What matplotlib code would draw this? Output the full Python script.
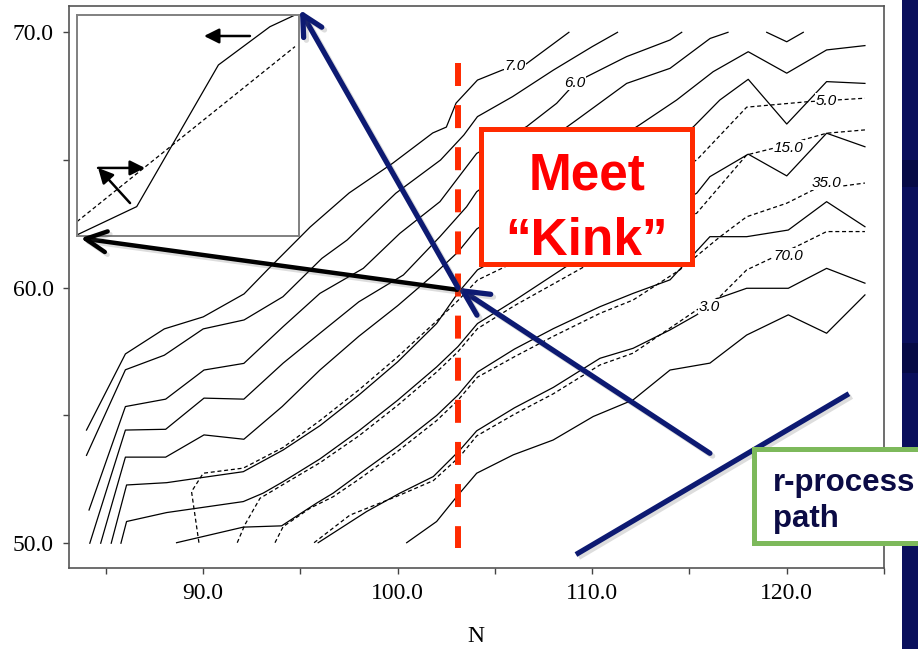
import matplotlib
matplotlib.use("Agg")
import matplotlib.pyplot as plt
from matplotlib.patches import Rectangle, FancyArrowPatch
from matplotlib.ticker import MultipleLocator, FormatStrFormatter
import matplotlib.patheffects as pe

# ------------------------------------------------------------------ data
# contour lines: neutron number N (x) versus Z (y)
A_N = [84.0, 86.0, 88.0, 90.0, 92.1, 93.3, 95.5, 97.5, 99.75, 101.8, 102.5, 103.0, 104.1, 105.4, 106.6, 108.8]
A_Z = [54.43, 57.41, 58.39, 58.86, 59.76, 60.70, 62.38, 63.71, 64.88, 66.06, 66.29, 67.23, 68.13, 68.53, 68.76, 70.0]
B_N = [84.0, 86.0, 88.0, 90.0, 92.1, 94.1, 96.1, 97.4, 99.9, 102.2, 103.4, 104.1, 105.9, 108.0, 110.0, 111.3]
B_Z = [53.44, 56.79, 57.36, 58.39, 58.74, 59.65, 61.15, 61.87, 63.70, 65.0, 65.98, 66.70, 67.48, 68.52, 69.44, 70.0]
C_N = [84.13, 86.0, 88.07, 90.04, 92.09, 94.11, 96.0, 98.23, 100.11, 102.17, 103.54, 104.06, 106.63, 108.17, 109.11, 109.71, 111.77, 114.0, 114.6]
C_Z = [51.3, 55.35, 55.64, 56.78, 57.04, 58.48, 59.78, 60.76, 62.13, 63.37, 64.74, 65.26, 66.31, 67.22, 68.0, 68.26, 69.05, 69.7, 70.0]
D_N = [84.17, 86.0, 88.07, 90.04, 92.09, 94.11, 96.0, 98.0, 100.29, 102.17, 103.54, 104.06, 109.2, 111.77, 114.0, 116.06, 116.98]
D_Z = [50.0, 54.43, 54.46, 55.68, 55.64, 57.05, 58.22, 59.45, 60.5, 62.0, 63.17, 63.76, 66.57, 68.0, 68.59, 69.76, 70.0]
E_N = [84.73, 86.0, 88.07, 90.04, 92.09, 94.06, 96.0, 98.0, 100.0, 101.83, 103.1, 104.06, 112.44, 114.34, 116.22, 118.02, 120.0, 122.05, 124.02]
E_Z = [50.0, 53.37, 53.37, 54.24, 54.07, 55.35, 56.78, 58.1, 59.3, 60.5, 61.4, 62.3, 66.38, 67.35, 68.46, 69.24, 68.4, 69.31, 69.48]
F_N = [85.27, 86.06, 88.12, 89.66, 92.06, 94.11, 96.0, 98.0, 100.0, 102.0, 103.1, 104.1, 106.0, 108.0, 115.2, 116.56, 118.02, 120.0, 122.05, 124.02]
F_Z = [50.0, 52.28, 52.37, 52.54, 52.8, 53.65, 54.6, 55.8, 57.1, 58.6, 59.8, 60.7, 61.5, 62.4, 66.3, 67.35, 68.16, 66.41, 68.07, 68.0]
G_N = [85.77, 86.06, 88.12, 92.06, 93.08, 94.11, 96.0, 98.0, 100.0, 102.0, 103.1, 104.1, 106.0, 110.0, 115.37, 116.05, 118.02, 120.0, 122.05, 124.02]
G_Z = [50.0, 50.85, 51.2, 51.63, 51.96, 52.41, 53.3, 54.4, 55.6, 56.9, 57.7, 58.6, 59.5, 61.5, 63.7, 64.35, 65.23, 64.38, 66.05, 65.52]
H_N = [88.63, 92.06, 94.03, 95.83, 96.68, 98.0, 100.0, 102.0, 103.1, 104.1, 106.0, 108.0, 110.4, 112.1, 114.0, 116.05, 117.94, 120.08, 122.05, 124.02]
H_Z = [50.02, 50.63, 50.68, 51.57, 51.96, 52.7, 53.8, 55.0, 55.8, 56.7, 57.6, 58.4, 59.26, 59.78, 60.31, 62.0, 62.0, 62.26, 63.37, 62.39]
I_N = [95.91, 98.4, 100.11, 101.83, 103.2, 104.06, 106.0, 108.0, 110.4, 112.1, 114.0, 115.37, 116.48, 117.94, 120.08, 122.05, 124.02]
I_Z = [50.02, 51.24, 51.96, 52.61, 53.65, 54.4, 55.3, 56.1, 57.24, 57.63, 58.35, 58.94, 59.59, 59.98, 59.98, 60.76, 60.18]
J_N = [100.46, 102.0, 103.03, 104.06, 105.94, 107.99, 110.05, 112.1, 114.0, 116.05, 117.94, 120.08, 122.05, 124.02]
J_Z = [50.02, 50.85, 51.82, 52.74, 53.46, 54.04, 54.96, 55.61, 56.78, 57.05, 58.15, 58.94, 58.22, 59.72]
V_N = [118.97, 120.0, 120.85]
V_Z = [70.0, 69.63, 70.0]
# dashed contour lines
D5_N = [89.78, 89.4, 90.0, 92.06, 94.11, 96.0, 98.0, 100.0, 102.0, 103.1, 104.1, 106.0, 110.0, 115.37, 117.94, 121.02, 124.02]
D5_Z = [50.02, 52.02, 52.74, 52.94, 53.75, 54.8, 56.0, 57.3, 58.7, 59.5, 60.3, 61.0, 63.0, 65.0, 67.07, 67.28, 67.42]
D15_N = [91.75, 92.14, 92.92, 94.11, 96.0, 98.0, 100.0, 102.0, 103.1, 104.1, 106.0, 110.0, 115.37, 117.94, 119.31, 122.05, 124.02]
D15_Z = [50.02, 50.72, 51.76, 52.3, 53.15, 54.2, 55.4, 56.7, 57.5, 58.4, 59.3, 61.0, 62.92, 65.2, 65.46, 66.05, 66.18]
D35_N = [93.69, 94.11, 95.49, 96.68, 98.0, 100.0, 102.0, 103.1, 104.1, 106.0, 108.0, 110.4, 112.1, 114.5, 116.56, 117.94, 120.0, 121.36, 124.02]
D35_Z = [50.02, 50.65, 51.37, 51.82, 52.5, 53.6, 54.8, 55.6, 56.5, 57.3, 58.1, 59.0, 59.52, 60.7, 61.99, 62.78, 63.31, 63.83, 64.1]
D70_N = [95.7, 97.54, 100.0, 101.83, 103.2, 104.06, 106.0, 108.0, 110.4, 112.1, 115.37, 116.56, 117.94, 119.39, 120.67, 122.05, 124.02]
D70_Z = [50.02, 51.1, 51.85, 52.45, 53.4, 54.2, 55.05, 55.85, 56.98, 57.44, 59.13, 59.65, 60.70, 61.22, 61.68, 62.2, 62.2]

SOLID = [(A_N, A_Z), (B_N, B_Z), (C_N, C_Z), (D_N, D_Z), (E_N, E_Z), (F_N, F_Z),
         (G_N, G_Z), (H_N, H_Z), (I_N, I_Z), (J_N, J_Z), (V_N, V_Z)]
DASHED = [(D5_N, D5_Z), (D15_N, D15_Z), (D35_N, D35_Z), (D70_N, D70_Z)]

LABEL_TEXT = ["7.0", "6.0", "5.0", "15.0", "35.0", "70.0", "3.0"]
LABEL_N = [106.03, 109.11, 122.02, 120.09, 122.02, 120.09, 116.0]
LABEL_Z = [68.70, 68.02, 67.33, 65.49, 64.10, 61.26, 59.25]

X_TICKS = [90.0, 100.0, 110.0, 120.0]
Y_TICKS = [50.0, 60.0, 70.0]

KINK_N, KINK_Z = 103.1, 60.0

# inset sketch (axes-fraction coordinates)
INS_SOLID_X = [0.0, 0.269, 0.637, 0.869, 0.982]
INS_SOLID_Y = [0.005, 0.133, 0.774, 0.947, 1.0]
INS_DASH_X = [0.0, 0.982]
INS_DASH_Y = [0.065, 0.857]

# ------------------------------------------------------------------ style
W, H = 918, 649
RED = "#ff2a00"
NAVY = "#0d1a72"
BAR = "#0a0f5c"
GREEN = "#7db95b"
SERIF = ["Liberation Serif", "DejaVu Serif"]
SANS = ["Liberation Sans", "DejaVu Sans"]

fig = plt.figure(figsize=(W / 100, H / 100), dpi=100)
fig.patch.set_facecolor("white")
ax = fig.add_axes([69 / W, 1 - 568 / H, (884 - 69) / W, (568 - 6) / H])
ax.set_xlim(83.1, 125.0)
ax.set_ylim(49.03, 71.03)

for n, z in SOLID:
    ax.plot(n, z, color="black", lw=0.9, zorder=2)
for n, z in DASHED:
    ax.plot(n, z, color="black", lw=0.9, ls=(0, (3.2, 2.2)), zorder=2)
for t, n, z in zip(LABEL_TEXT, LABEL_N, LABEL_Z):
    ax.text(n, z, t, fontsize=11, style="italic", family=SANS, ha="center", va="center",
            zorder=3, bbox=dict(fc="white", ec="none", pad=0.3))

ax.set_xticks(X_TICKS)
ax.set_yticks(Y_TICKS)
ax.xaxis.set_minor_locator(MultipleLocator(5))
ax.yaxis.set_minor_locator(MultipleLocator(5))
ax.xaxis.set_major_formatter(FormatStrFormatter("%.1f"))
ax.yaxis.set_major_formatter(FormatStrFormatter("%.1f"))
ax.tick_params(which="both", direction="out", length=4.5, width=1.0, color="#444444",
               labelsize=17, pad=6.5)
for lab in ax.get_xticklabels() + ax.get_yticklabels():
    lab.set_family(SERIF)
for s in ax.spines.values():
    s.set_color("#555555")
    s.set_linewidth(1.2)
fig.text(476 / W, 1 - 637 / H, "N", ha="center", va="center", fontsize=17, family=SERIF)

# red dashed "kink" line
ax.plot([KINK_N, KINK_N], [68.8, 49.82], color=RED, lw=4.3, ls=(0, (3.85, 3.2)),
        clip_on=False, zorder=4)

# red box
ax.add_patch(Rectangle((104.27, 60.93), 115.12 - 104.27, 66.23 - 60.93, fc="white", ec=RED,
                       lw=3.6, zorder=5))
ax.text(109.75, 63.83, "Meet", color="#ff0000", fontsize=37, fontweight="bold", family=SANS,
        ha="center", va="baseline", zorder=6)
ax.text(109.7, 61.28, "\u201cKink\u201d", color="#ff0000", fontsize=37, fontweight="bold",
        family=SANS, ha="center", va="baseline", zorder=6)

# inset
ins = fig.add_axes([77 / W, 1 - 236 / H, 222 / W, 221 / H], zorder=3)
ins.set_xlim(0, 1)
ins.set_ylim(0, 1)
ins.set_xticks([])
ins.set_yticks([])
for s in ins.spines.values():
    s.set_color("#808080")
    s.set_linewidth(1.4)
ins.plot(INS_SOLID_X, INS_SOLID_Y, color="black", lw=0.9, clip_on=False)
ins.plot(INS_DASH_X, INS_DASH_Y, color="black", lw=0.9, ls=(0, (3.2, 2.2)))
for p0, p1 in [((0.779, 0.905), (0.572, 0.905)), ((0.239, 0.149), (0.095, 0.308)),
               ((0.095, 0.308), (0.306, 0.308))]:
    ins.add_patch(FancyArrowPatch(p0, p1, transform=ins.transAxes,
                                  arrowstyle="-|>,head_length=9,head_width=4.5",
                                  mutation_scale=1, color="black", lw=1.8,
                                  shrinkA=0, shrinkB=0))

shadow = [pe.SimpleLineShadow(offset=(2, -2), shadow_color="#555555", alpha=0.2), pe.Normal()]


def arrow(p0, p1, color, lw, hl, hw):
    a = FancyArrowPatch(p0, p1, transform=ax.transData,
                        arrowstyle=f"->,head_length={hl},head_width={hw}",
                        mutation_scale=1, color=color, lw=lw, shrinkA=0, shrinkB=0,
                        capstyle="round", joinstyle="round", zorder=6, path_effects=shadow)
    fig.add_artist(a)


arrow((103.06, 59.92), (83.7, 61.94), "black", 3.2, 15, 7.5)
arrow((116.05, 53.52), (KINK_N, KINK_Z), NAVY, 3.8, 18, 9)
arrow((KINK_N, KINK_Z), (94.97, 70.88), NAVY, 3.8, 14.5, 7.5)

# r-process path line
rp = plt.Line2D([109.28, 123.08], [49.61, 55.80], transform=ax.transData, color=NAVY, lw=3.8,
                zorder=6, path_effects=shadow)
fig.add_artist(rp)

# right navy bar of the slide
fig.add_artist(Rectangle((902 / W, 0), 16 / W, 1, transform=fig.transFigure, fc=BAR,
                         ec="none", zorder=0.5))
fig.add_artist(Rectangle((902 / W, 1 - 187 / H), 16 / W, 27 / H, transform=fig.transFigure,
                         fc="#060a45", ec="none", zorder=0.6))
fig.add_artist(Rectangle((902 / W, 1 - 373 / H), 16 / W, 30 / H, transform=fig.transFigure,
                         fc="#060a45", ec="none", zorder=0.6))

# green box
fig.add_artist(Rectangle((118.3, 50.01), 10.0, 53.69 - 50.01, transform=ax.transData,
                         fc="white", ec=GREEN, lw=3.6, zorder=7))
fig.text(119.28, 52.06, "r-process", transform=ax.transData, color="#0b0b45", fontsize=22.5,
         fontweight="bold", family=SANS, ha="left", va="baseline", zorder=8)
fig.text(119.28, 50.63, "path", transform=ax.transData, color="#0b0b45", fontsize=22.5,
         fontweight="bold", family=SANS, ha="left", va="baseline", zorder=8)

fig.savefig("out.png", dpi=100)
